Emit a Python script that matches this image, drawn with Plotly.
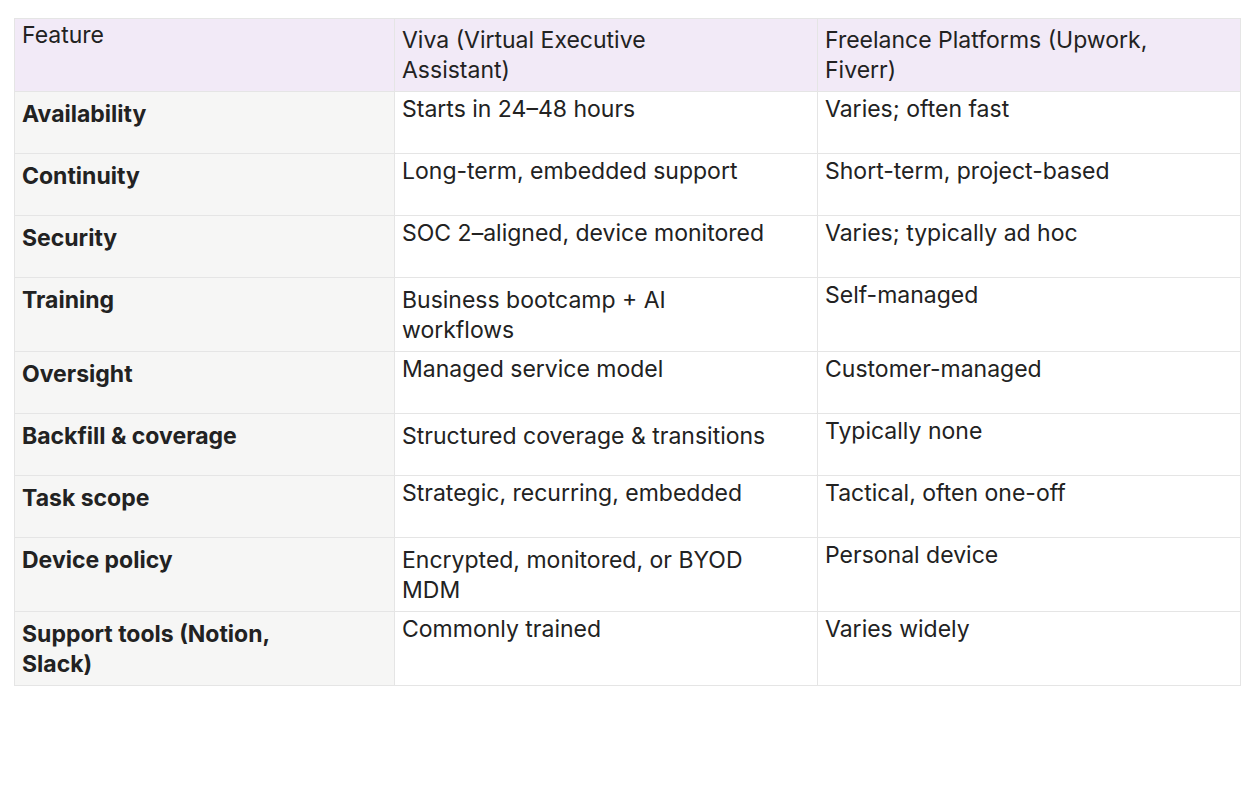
import plotly.graph_objects as go

W, H = 1256, 802

headers = ["Feature", "Viva (Virtual Executive<br>Assistant)", "Freelance Platforms (Upwork,<br>Fiverr)"]
features = ["Availability", "Continuity", "Security", "Training", "Oversight",
            "Backfill &amp; coverage", "Task scope", "Device policy", "Support tools (Notion,<br>Slack)"]
viva = ["Starts in 24–48 hours", "Long-term, embedded support", "SOC 2–aligned, device monitored",
        "Business bootcamp + AI<br>workflows", "Managed service model", "Structured coverage &amp; transitions",
        "Strategic, recurring, embedded", "Encrypted, monitored, or BYOD<br>MDM", "Commonly trained"]
freelance = ["Varies; often fast", "Short-term, project-based", "Varies; typically ad hoc",
             "Self-managed", "Customer-managed", "Typically none", "Tactical, often one-off",
             "Personal device", "Varies widely"]

border = "#e5e5e5"
font = dict(family="Inter, Liberation Sans, sans-serif", size=23, color="#222")
fig = go.Figure(go.Table(
    columnwidth=[380, 423, 423],
    header=dict(values=headers, fill_color="#f2eaf7", line_color=border,
                align="left", height=62, font=font),
    cells=dict(values=[["<b>%s</b>" % f for f in features], viva, freelance],
               fill_color=[["#f6f6f5"] * len(features), ["white"] * len(features), ["white"] * len(features)],
               line_color=border, align="left", height=62, font=font),
    domain=dict(x=[6 / W, 1232 / W], y=[0, 1 - 10 / H]),
))
fig.update_layout(width=W, height=H, margin=dict(l=0, r=0, t=0, b=0),
                  paper_bgcolor="white")
fig.write_html("out.html")
